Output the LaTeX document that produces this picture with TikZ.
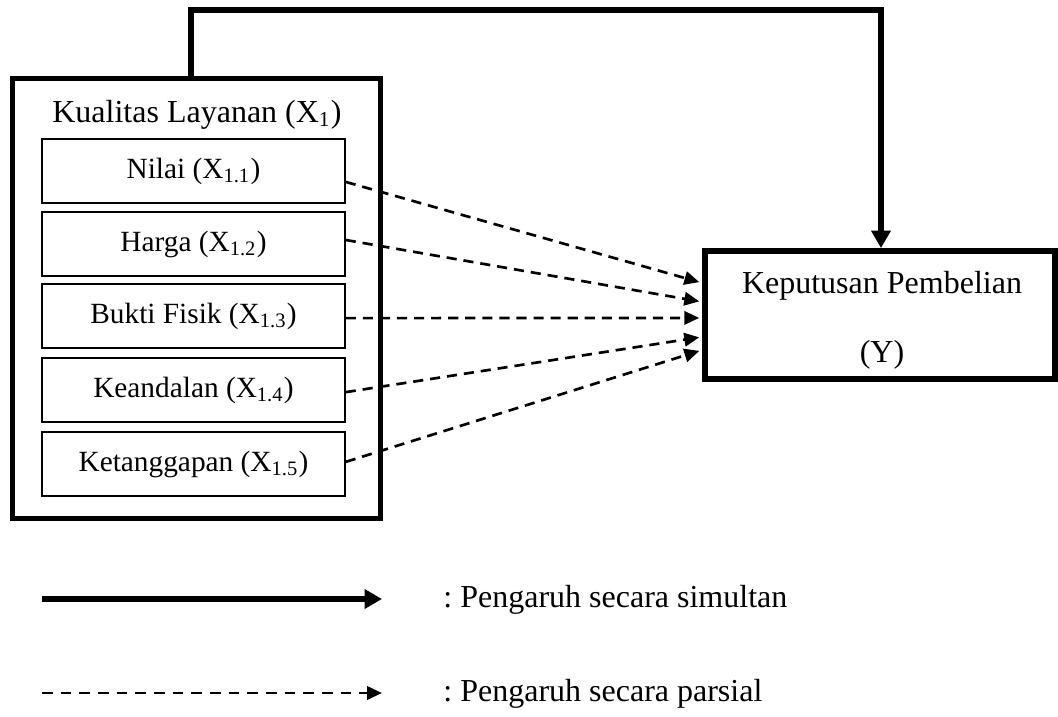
\documentclass[tikz,border=0pt]{standalone}
\usepackage{fontspec}
\setmainfont{Liberation Serif}
\usetikzlibrary{arrows.meta}

\begin{document}
\frenchspacing
\begin{tikzpicture}[x=0.375pt,y=-0.375pt,
		outerbox/.style={draw,line width=2.2pt,minimum width=138pt,minimum height=165pt,inner sep=0pt},
		subbox/.style={draw,line width=0.6pt,minimum width=113.6pt,minimum height=24pt,inner sep=0pt,font=\fontsize{11}{13}\selectfont},
		ybox/.style={draw,line width=2.2pt,minimum width=131pt,minimum height=48pt,inner sep=0pt},
		label12/.style={font=\fontsize{12}{14.5}\selectfont},
		simul/.style={line width=1.9pt,-{Triangle[length=6.5pt,width=7pt]}},
		parsial/.style={line width=1pt,dash pattern=on 3.8pt off 2.6pt,-{Triangle[length=5.6pt,width=5pt]},shorten >=1.2pt},
		legtext/.style={label12,anchor=west}]
	\useasboundingbox (0,0) rectangle (1058,717);

	\node[outerbox] (kl) at (196.5,298.5) {};
	\node[label12,anchor=base] (kltitle) at (197,122) {Kualitas Layanan (X\textsubscript{1})};
	\node[subbox] (x1) at (193.5,171) {Nilai (X\textsubscript{1.1})};
	\node[subbox] (x2) at (193.5,244) {Harga (X\textsubscript{1.2})};
	\node[subbox] (x3) at (193.5,316) {Bukti Fisik (X\textsubscript{1.3})};
	\node[subbox] (x4) at (193.5,390) {Keandalan (X\textsubscript{1.4})};
	\node[subbox] (x5) at (193.5,464) {Ketanggapan (X\textsubscript{1.5})};

	\node[ybox] (ky) at (880,315) {};
	\node[label12,anchor=base] (kytitle) at (882,293) {Keputusan Pembelian};
	\node[label12,anchor=base] (kyy) at (882,362) {(Y)};

	\coordinate (topleft) at (191,10);
	\coordinate (topright) at (881,10);
	\draw[simul] (kl.north -| topleft) -- (topleft) -- (topright) -- (topright |- ky.north);

	\draw[parsial] ([yshift=-4.1pt]x1.east) -- ([yshift=12pt]ky.west);
	\draw[parsial] ([yshift=1.5pt]x2.east) -- ([yshift=4.9pt]ky.west);
	\draw[parsial] ([yshift=-0.8pt]x3.east) -- ([yshift=-1.1pt]ky.west);
	\draw[parsial] ([yshift=-0.8pt]x4.east) -- ([yshift=-8.2pt]ky.west);
	\draw[parsial] ([yshift=0.8pt]x5.east) -- ([yshift=-13.1pt]ky.west);

	\coordinate (lgsimA) at (42,599);
	\coordinate (lgsimB) at (382,599);
	\coordinate (lgparA) at (42,693);
	\coordinate (lgparB) at (382,693);
	\draw[simul] (lgsimA) -- (lgsimB);
	\draw[parsial,dash pattern=on 4pt off 3pt,shorten >=0pt] (lgparA) -- (lgparB);
	\node[legtext] (lgsim) at (434,600) {: Pengaruh secara simultan};
	\node[legtext] (lgpar) at (434,694) {: Pengaruh secara parsial};
\end{tikzpicture}
\end{document}
